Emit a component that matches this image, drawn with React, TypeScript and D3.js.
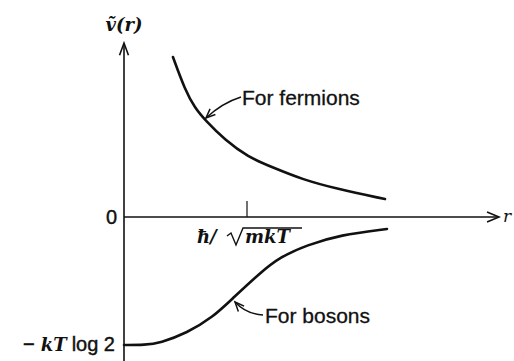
import React from "react";
import * as d3 from "d3";

// Separation r in units of ħ/√(mkT); statistical potential ṽ(r) in units of kT
const fermionR = [0.398, 0.496, 0.577, 0.659, 0.821, 1.008, 1.203, 1.455, 1.732, 2.122];
const fermionV = [0.866, 0.688, 0.59, 0.525, 0.417, 0.325, 0.27, 0.202, 0.152, 0.097];
const bosonR = [0.0, 0.171, 0.293, 0.512, 0.724, 0.886, 1.106, 1.268, 1.488, 1.756, 2.138];
const bosonV = [-0.693, -0.693, -0.682, -0.628, -0.542, -0.439, -0.303, -0.217, -0.152, -0.097, -0.065];

const xTicks = [1];            // r = ħ/√(mkT)
const yTicks = [0, -0.693];    // 0 and −kT log 2

const W = 514;
const H = 361;

const mathFont = "'DejaVu Serif', 'Liberation Serif', serif";
const sansFont = "'Liberation Sans', Arial, sans-serif";

function arrowHead(tip: [number, number], from: [number, number], len = 9, spread = 0.45) {
  const ang = Math.atan2(tip[1] - from[1], tip[0] - from[0]);
  const a1 = ang + Math.PI - spread;
  const a2 = ang + Math.PI + spread;
  return `M${tip[0] + len * Math.cos(a1)},${tip[1] + len * Math.sin(a1)} L${tip[0]},${tip[1]} L${tip[0] + len * Math.cos(a2)},${tip[1] + len * Math.sin(a2)}`;
}

export default function App() {
  const x = d3.scaleLinear().domain([0, 1]).range([124, 247]);
  const y = d3.scaleLinear().domain([0, -0.693]).range([217, 345]);

  const line = d3
    .line<[number, number]>()
    .x((d) => x(d[0]))
    .y((d) => y(d[1]))
    .curve(d3.curveBasis);

  const fermions: [number, number][] = fermionR.map((r, i) => [r, fermionV[i]]);
  const bosons: [number, number][] = bosonR.map((r, i) => [r, bosonV[i]]);

  const x0 = x(0);
  const y0 = y(0);
  const axisTop = 43;
  const axisRight = 499;

  // leader arrows pointing at the curves
  const fTip: [number, number] = [206, 118];
  const fCtrl: [number, number] = [222, 103];
  const bTip: [number, number] = [235, 302];
  const bCtrl: [number, number] = [246, 314];

  const ink = "#111";

  return (
    <svg
      width={W}
      height={H}
      viewBox={`0 0 ${W} ${H}`}
      style={{ position: "absolute", left: 0, top: 0, background: "#fff" }}
    >
      <rect width={W} height={H} fill="#fff" />

      {/* vertical axis */}
      <line x1={x0} y1={H} x2={x0} y2={axisTop} stroke={ink} strokeWidth={1.6} />
      <path d={arrowHead([x0, axisTop], [x0, axisTop + 20], 13, 0.35)} fill="none" stroke={ink} strokeWidth={1.6} />

      {/* horizontal axis */}
      <line x1={x0} y1={y0} x2={axisRight} y2={y0} stroke={ink} strokeWidth={1.6} />
      <path d={arrowHead([axisRight, y0], [axisRight - 20, y0], 13, 0.4)} fill="none" stroke={ink} strokeWidth={1.6} />
      <text x={503} y={y0 + 5} fontFamily={mathFont} fontStyle="italic" fontSize={17} fill={ink}>
        r
      </text>

      {/* axis title */}
      <text x={x0} y={31} textAnchor="middle" fontFamily={mathFont} fontStyle="italic" fontWeight="bold" fontSize={18} fill={ink}>
        ṽ(r)
      </text>

      {/* x tick */}
      {xTicks.map((t) => (
        <line key={t} x1={x(t)} x2={x(t)} y1={y0 - 16} y2={y0} stroke={ink} strokeWidth={1.2} />
      ))}
      <g fill={ink}>
        <text x={197} y={243} fontFamily={mathFont} fontStyle="italic" fontWeight="bold" fontSize={18}>
          ħ/
        </text>
        <path d="M227,236 L231,233 L236,245 L243,228 L302,228" fill="none" stroke={ink} strokeWidth={1.4} />
        <text x={245} y={243} fontFamily={mathFont} fontStyle="italic" fontWeight="bold" fontSize={18}>
          mkT
        </text>
      </g>

      {/* y ticks and labels */}
      <line x1={x0} x2={x0 + 5} y1={y(yTicks[1])} y2={y(yTicks[1])} stroke={ink} strokeWidth={1.4} />
      <text x={117} y={y(yTicks[0]) + 7} textAnchor="end" fontFamily={sansFont} fontSize={20} fill={ink} stroke={ink} strokeWidth={0.4}>
        0
      </text>
      <text x={115} y={y(yTicks[1]) + 6} textAnchor="end" fill={ink}>
        <tspan fontFamily={sansFont} fontSize={20} stroke={ink} strokeWidth={0.6}>−</tspan>
        <tspan dx={6} fontFamily={mathFont} fontStyle="italic" fontWeight="bold" fontSize={18}>kT</tspan>
        <tspan dx={5} fontFamily={sansFont} fontSize={20} stroke={ink} strokeWidth={0.4}>log 2</tspan>
      </text>

      {/* curves */}
      <path d={line(fermions) ?? ""} fill="none" stroke={ink} strokeWidth={2.6} strokeLinecap="round" />
      <path d={line(bosons) ?? ""} fill="none" stroke={ink} strokeWidth={2.6} strokeLinecap="round" />

      {/* annotations */}
      <path d={`M241,97 Q${fCtrl[0]},${fCtrl[1]} ${fTip[0]},${fTip[1]}`} fill="none" stroke={ink} strokeWidth={1.5} />
      <path d={arrowHead(fTip, fCtrl, 10, 0.4)} fill="none" stroke={ink} strokeWidth={1.5} />
      <text x={242} y={105} fontFamily={sansFont} fontSize={21} fill={ink} stroke={ink} strokeWidth={0.3}>
        For fermions
      </text>

      <path d={`M263,315 Q${bCtrl[0]},${bCtrl[1]} ${bTip[0]},${bTip[1]}`} fill="none" stroke={ink} strokeWidth={1.5} />
      <path d={arrowHead(bTip, bCtrl, 10, 0.4)} fill="none" stroke={ink} strokeWidth={1.5} />
      <text x={265} y={323} fontFamily={sansFont} fontSize={21} fill={ink} stroke={ink} strokeWidth={0.3}>
        For bosons
      </text>
    </svg>
  );
}
